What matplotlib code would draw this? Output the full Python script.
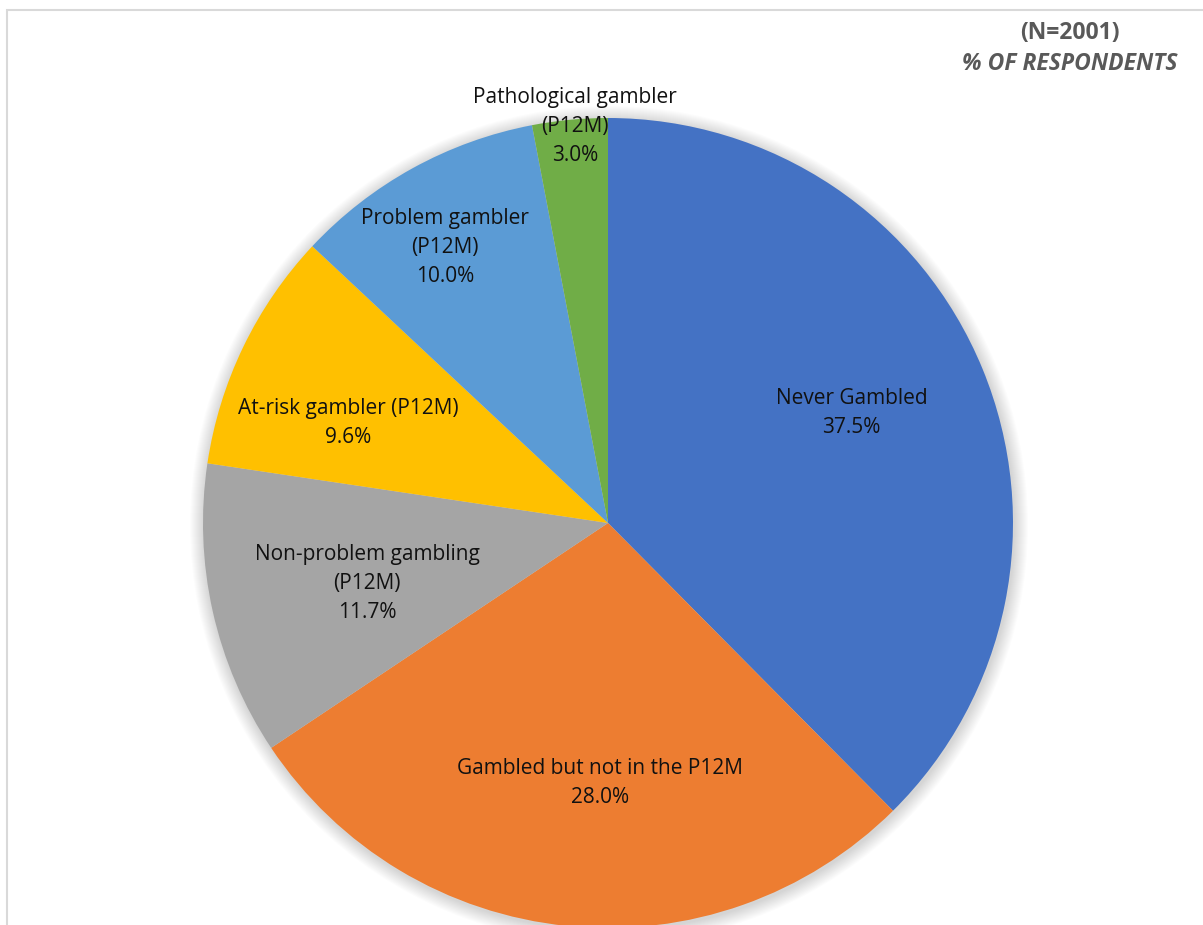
import numpy as np
import matplotlib.pyplot as plt
from matplotlib.patches import Circle, Rectangle

plt.rcParams['font.family'] = ['Open Sans', 'DejaVu Sans']

categories = ['Never Gambled', 'Gambled but not in the P12M', 'Non-problem gambling\n(P12M)',
              'At-risk gambler (P12M)', 'Problem gambler\n(P12M)', 'Pathological gambler\n(P12M)']
values = [37.5, 28.0, 11.7, 9.6, 10.0, 3.0]
colors = ['#4472C4', '#ED7D31', '#A5A5A5', '#FFC000', '#5B9BD5', '#70AD47']

# label placement: fraction of radius and angle nudge (degrees)
label_r = [0.66, 0.642, 0.613, 0.688, 0.79, 0.983]
label_da = [2.0, 4.0, 1.4, 4.8, 1.8, -0.7]

W, H = 1203, 925
fig = plt.figure(figsize=(W / 100, H / 100), dpi=100)
ax = fig.add_axes([0, 0, 1, 1])

cx, cy, R = 608, H - 523, 405

# soft shadow around the pie
for k in range(14, 0, -1):
    ax.add_patch(Circle((cx + 1, cy - 2), R + k, facecolor='#000000', alpha=0.013,
                        edgecolor='none', zorder=1))

wedges, _ = ax.pie(values, colors=colors, startangle=90, counterclock=False,
                   center=(cx, cy), radius=R, wedgeprops=dict(linewidth=0, zorder=2),
                   frame=True)
ax.set_xlim(0, W)
ax.set_ylim(0, H)
ax.axis('off')

for w, name, v, rf, da in zip(wedges, categories, values, label_r, label_da):
    ang = np.deg2rad((w.theta1 + w.theta2) / 2 + da)
    x = cx + rf * R * np.cos(ang)
    y = cy + rf * R * np.sin(ang)
    ax.text(x, y, f'{name}\n{v:.1f}%', ha='center', va='center', fontsize=15,
            color='#111111', linespacing=1.5, zorder=5)

# chart area border
ax.add_patch(Rectangle((7, -20), W + 20, H - 10 + 20, facecolor='none',
                       edgecolor='#d9d9d9', linewidth=1.5, zorder=6, clip_on=False))

ax.text(1070, H - 33, '(N=2001)', ha='center', va='center', fontsize=16.5,
        fontweight='bold', color='#595959')
ax.text(1070, H - 64, '% OF RESPONDENTS', ha='center', va='center', fontsize=16.5,
        fontweight='bold', fontstyle='italic', color='#595959')

fig.savefig('out.png', dpi=100)
